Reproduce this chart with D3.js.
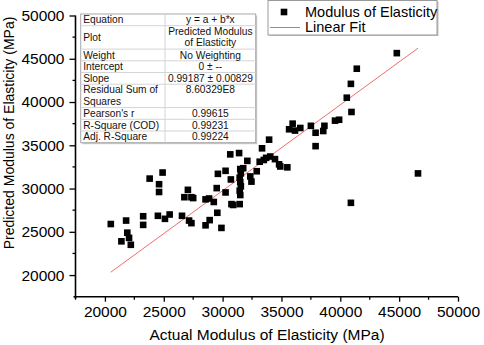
<!DOCTYPE html>
<html>
<head>
<meta charset="utf-8">
<script src="https://cdn.jsdelivr.net/npm/d3@7"></script>
<style>
  body { margin: 0; background: #fff; }
  svg { font-family: "Liberation Sans", Arial, sans-serif; }
</style>
</head>
<body>
<div id="chart"></div>
<script>
// measured values (MPa)
const actual = [20500, 21400, 21800, 21900, 22050, 22200, 23250, 23250, 23800, 24500,
    24600, 24600, 24900, 25100, 25500, 26550, 26750, 27050, 27150, 27350,
    27500, 27350, 28550, 28550, 28850, 28900, 29250, 29500, 29550, 29600,
    29900, 30250, 30250, 30650, 30700, 30750, 30900, 31400, 31450,
    31500, 31550, 31450, 31500, 31550, 31450, 31500,
    31750, 32100, 32350, 32450, 32900, 33150, 33350, 33500, 33950, 33700,
    34050, 34450, 34800, 34900, 35500, 35650, 35950, 36150, 36600, 37500,
    37900, 37900, 38650, 38550, 39550, 39900, 40950, 40900, 46600, 44800,
    41400, 40900, 40550];
const predicted = [25900, 23900, 26300, 24900, 24300, 23500, 26800, 25800, 31150, 26850,
    30500, 29600, 31850, 26500, 27000, 26850, 29000, 29850, 26300, 29000,
    28900, 26000, 25750, 28750, 28850, 26350, 28450, 30050, 27200, 31700,
    25450, 32050, 29550, 33950, 31050, 28200, 28100, 34100, 28200,
    32250, 31750, 31250, 30750, 30250, 29750, 29250,
    32350, 33200, 31400, 30800, 32000, 33100, 34650, 33300, 35650, 33550,
    33700, 33400, 32800, 32550, 32450, 36850, 37500, 36700, 37000, 37250,
    36450, 34900, 37250, 36650, 37850, 37950, 38850, 28350, 31750, 45650,
    43850, 42100, 40500];

const slope = 0.99187;
const majorTicks = [20000, 25000, 30000, 35000, 40000, 45000, 50000];
const minorTicks = [17500, 22500, 27500, 32500, 37500, 42500, 47500];

const tableLabels = [["Equation"], ["Plot"], ["Weight"], ["Intercept"], ["Slope"],
    ["Residual Sum of", "Squares"], ["Pearson's r"], ["R-Square (COD)"], ["Adj. R-Square"]];
const tableValues = [["y = a + b*x"], ["Predicted Modulus", "of Elasticity"], ["No Weighting"],
    ["0 \u00b1 --"], ["0.99187 \u00b1 0.00829"], ["8.60329E8"], ["0.99615"], ["0.99231"], ["0.99224"]];

const W = 484, H = 345;
const font = '"Liberation Sans", Arial, sans-serif';

const svg = d3.select("#chart").append("svg")
    .attr("width", W).attr("height", H);

const x = d3.scaleLinear().domain([17500, 50000]).range([75.5, 458]);
const y = d3.scaleLinear().domain([17500, 50000]).range([296.7, 15.5]);

// axes
const xAxis = svg.append("g")
    .attr("transform", `translate(0,${y(17500)})`)
    .call(d3.axisBottom(x).tickValues(majorTicks).tickFormat(d3.format("d")).tickSize(5).tickSizeOuter(0).tickPadding(4));
xAxis.append("g").selectAll("line").data(minorTicks).enter().append("line")
    .attr("x1", d => x(d)).attr("x2", d => x(d)).attr("y1", 0).attr("y2", 3)
    .attr("stroke", "#000").attr("stroke-width", 1.3);
xAxis.select(".domain").attr("d", `M${x(17500) - 2},0H${x(50000)}`);

const yAxis = svg.append("g")
    .attr("transform", `translate(${x(17500)},0)`)
    .call(d3.axisLeft(y).tickValues(majorTicks).tickFormat(d3.format("d")).tickSize(6).tickSizeOuter(0).tickPadding(5));
yAxis.append("g").selectAll("line").data(minorTicks.slice(1)).enter().append("line")
    .attr("y1", d => y(d)).attr("y2", d => y(d)).attr("x1", 0).attr("x2", -3)
    .attr("stroke", "#000").attr("stroke-width", 1.3);
yAxis.select(".domain").attr("d", `M0,${y(50000)}V${y(17500) + 2}`);

svg.selectAll(".domain").attr("stroke", "#000").attr("stroke-width", 1.6);
svg.selectAll(".tick line").attr("stroke", "#000").attr("stroke-width", 1.3);
svg.selectAll(".tick text").attr("font-size", 15.5).attr("font-family", font).attr("fill", "#000");

// axis titles
svg.append("text")
    .attr("x", 267).attr("y", 340)
    .attr("text-anchor", "middle")
    .attr("font-size", 15.5)
    .text("Actual Modulus of Elasticity (MPa)");

svg.append("text")
    .attr("transform", "translate(13.5,133) rotate(-90)")
    .attr("text-anchor", "middle")
    .attr("font-size", 14)
    .text("Predicted Modulus of Elasticity (MPa)");

// linear fit line
const fitX = d3.extent(actual);
svg.append("line")
    .attr("x1", x(fitX[0])).attr("y1", y(slope * fitX[0]))
    .attr("x2", x(fitX[1])).attr("y2", y(slope * fitX[1]))
    .attr("stroke", "#f26b6b").attr("stroke-width", 1);

// scatter squares
const s = 6.6;
svg.append("g").selectAll("rect")
    .data(actual.map((d, i) => [d, predicted[i]]))
    .enter().append("rect")
    .attr("x", d => x(d[0]) - s / 2)
    .attr("y", d => y(d[1]) - s / 2)
    .attr("width", s).attr("height", s)
    .attr("fill", "#000");

// stats table
const tX = 80.7, tW = 175, tDiv = 165, tY = 14, lineH = 11.7;
const table = svg.append("g");
let rows = [];
let cy = tY;
tableLabels.forEach((lab, i) => {
    const n = Math.max(lab.length, tableValues[i].length);
    rows.push({top: cy, h: n * lineH, lab: lab, val: tableValues[i]});
    cy += n * lineH;
});
const tH = cy - tY;
table.append("rect").attr("x", tX + 1.5).attr("y", tY + 1.5).attr("width", tW).attr("height", tH)
    .attr("fill", "#c8c8c8");
table.append("rect").attr("x", tX).attr("y", tY).attr("width", tW).attr("height", tH)
    .attr("fill", "#fff").attr("stroke", "#a8a8a8").attr("stroke-width", 1);
table.selectAll(".hl").data(rows.slice(1)).enter().append("line")
    .attr("x1", tX).attr("x2", tX + tW)
    .attr("y1", d => d.top).attr("y2", d => d.top)
    .attr("stroke", "#d4d4d4").attr("stroke-width", 1);
table.append("line").attr("x1", tDiv).attr("x2", tDiv).attr("y1", tY).attr("y2", tY + tH)
    .attr("stroke", "#d4d4d4").attr("stroke-width", 1);
rows.forEach(r => {
    const labTop = r.lab.length === 1 ? r.top + r.h / 2 + 3.6 : r.top + 9.2;
    r.lab.forEach((t, j) => {
        table.append("text").attr("x", tX + 2.5).attr("y", labTop + j * 11.2)
            .attr("font-size", 10.2).attr("fill", "#111").text(t);
    });
    const valTop = r.val.length === 1 && r.lab.length === 1 ? r.top + r.h / 2 + 3.6 : r.top + 9.2;
    r.val.forEach((t, j) => {
        table.append("text").attr("x", (tDiv + tX + tW) / 2).attr("y", valTop + j * 11.2)
            .attr("text-anchor", "middle")
            .attr("font-size", 10.2).attr("fill", "#111").text(t);
    });
});

// legend
const lg = svg.append("g");
lg.append("rect").attr("x", 269.5).attr("y", 1.5).attr("width", 169).attr("height", 34.5)
    .attr("fill", "#c0c0c0");
lg.append("rect").attr("x", 268).attr("y", 0.5).attr("width", 169).attr("height", 34.5)
    .attr("fill", "#fff").attr("stroke", "#999").attr("stroke-width", 1);
lg.append("rect").attr("x", 284 - s / 2).attr("y", 12 - s / 2).attr("width", s).attr("height", s)
    .attr("fill", "#000");
lg.append("line").attr("x1", 270).attr("x2", 300).attr("y1", 27.5).attr("y2", 27.5)
    .attr("stroke", "#f26b6b").attr("stroke-width", 1);
lg.append("text").attr("x", 305).attr("y", 16.7).attr("font-size", 14.5).text("Modulus of Elasticity");
lg.append("text").attr("x", 305).attr("y", 32.3).attr("font-size", 14.5).text("Linear Fit");
</script>
</body>
</html>
